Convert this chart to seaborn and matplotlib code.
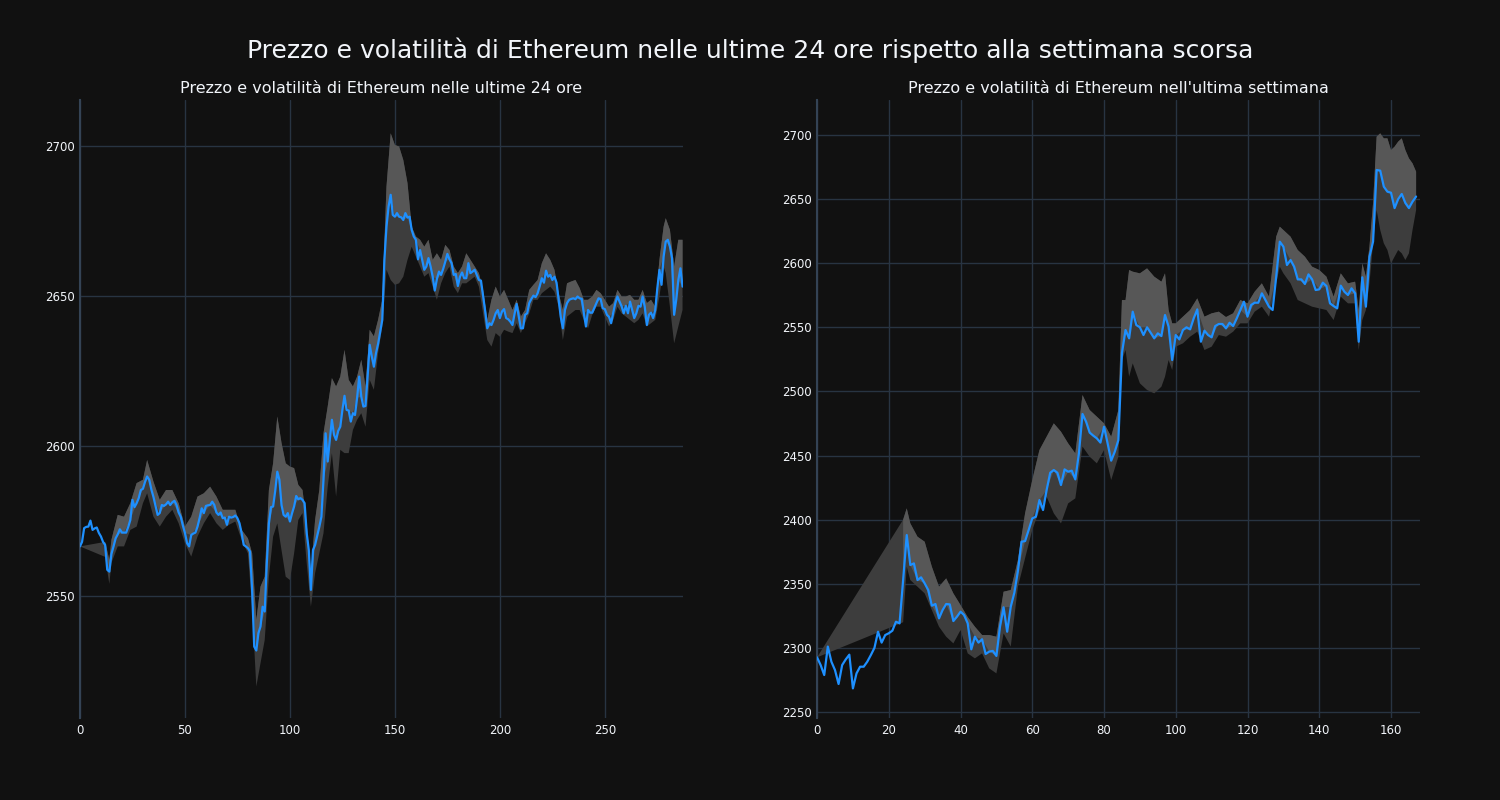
import numpy as np
import pandas as pd
import matplotlib
matplotlib.use("Agg")
import matplotlib.pyplot as plt
import seaborn as sns

# --- dati: prezzo ETH ultime 24 ore (intervalli di 5 minuti) --- #
prezzo_24h = [
    2566.5, 2568.0, 2572.6, 2573.0, 2573.1, 2575.1, 2572.0, 2572.5, 2572.8, 2571.0,
    2569.8, 2568.0, 2567.0, 2558.7, 2558.1, 2564.0, 2566.5, 2569.2, 2570.5, 2572.2,
    2571.1, 2571.1, 2571.1, 2573.0, 2575.3, 2582.0, 2579.6, 2580.9, 2582.6, 2585.3,
    2585.7, 2588.0, 2589.8, 2588.7, 2585.5, 2583.0, 2580.0, 2577.0, 2577.6, 2580.3,
    2580.0, 2580.5, 2581.4, 2580.3, 2581.2, 2581.7, 2580.3, 2577.8, 2576.4, 2573.5,
    2571.0, 2567.6, 2566.5, 2570.3, 2570.8, 2571.1, 2573.1, 2576.0, 2579.2, 2577.6,
    2580.0, 2580.2, 2580.3, 2581.4, 2580.3, 2577.8, 2577.0, 2577.8, 2575.9, 2576.1,
    2573.7, 2576.4, 2576.1, 2576.3, 2576.8, 2575.9, 2574.2, 2570.9, 2567.0, 2566.5,
    2565.9, 2564.8, 2552.0, 2533.1, 2531.8, 2537.6, 2539.8, 2546.4, 2544.8, 2560.9,
    2574.2, 2579.6, 2579.8, 2585.0, 2591.4, 2588.7, 2580.3, 2577.0, 2576.4, 2577.6,
    2574.8, 2577.5, 2579.8, 2583.3, 2582.2, 2582.6, 2582.0, 2580.9, 2570.9, 2565.3,
    2552.0, 2565.3, 2567.0, 2570.0, 2573.0, 2576.4, 2588.7, 2604.2, 2594.8, 2602.0,
    2608.7, 2603.7, 2602.0, 2605.0, 2606.4, 2612.0, 2616.7, 2612.0, 2611.8, 2608.1,
    2610.9, 2610.3, 2616.0, 2623.1, 2616.4, 2613.1, 2613.3, 2623.0, 2633.7, 2629.8,
    2626.4, 2630.9, 2634.0, 2638.0, 2642.0, 2662.0, 2673.1, 2679.8, 2683.7, 2677.0,
    2676.4, 2677.6, 2676.4, 2676.2, 2675.3, 2677.6, 2676.1, 2676.4, 2672.0, 2669.8,
    2668.7, 2662.2, 2665.3, 2662.0, 2658.7, 2659.8, 2662.6, 2659.8, 2656.4, 2651.8,
    2655.6, 2658.1, 2657.0, 2659.0, 2661.4, 2664.0, 2662.2, 2660.9, 2657.0, 2657.3,
    2653.3, 2656.4, 2657.8, 2655.9, 2655.9, 2660.9, 2657.6, 2658.1, 2658.7, 2657.0,
    2655.3, 2655.1, 2650.0, 2645.0, 2639.2, 2640.9, 2640.3, 2642.0, 2644.2, 2645.3,
    2642.6, 2644.8, 2645.6, 2642.6, 2642.2, 2641.4, 2640.3, 2644.0, 2647.3, 2643.1,
    2639.2, 2639.2, 2643.7, 2644.2, 2647.6, 2649.0, 2650.1, 2649.6, 2650.9, 2653.3,
    2655.9, 2654.4, 2658.4, 2656.4, 2657.0, 2655.3, 2656.4, 2654.4, 2648.7, 2643.0,
    2639.2, 2645.3, 2647.6, 2648.7, 2649.0, 2649.2, 2648.9, 2649.8, 2649.2, 2649.0,
    2644.2, 2639.8, 2645.3, 2644.4, 2644.4, 2646.0, 2647.6, 2649.2, 2648.9, 2645.9,
    2645.6, 2643.7, 2643.0, 2640.9, 2644.4, 2647.6, 2649.8, 2648.1, 2646.5, 2644.2,
    2646.7, 2644.2, 2648.1, 2645.3, 2642.6, 2644.2, 2646.7, 2646.4, 2649.8, 2646.4,
    2640.3, 2643.7, 2644.4, 2642.6, 2645.3, 2652.6, 2658.7, 2653.7, 2663.1, 2668.1,
    2668.7, 2666.4, 2662.6, 2643.7, 2648.7, 2655.3, 2659.2, 2653.1,
]

# banda di volatilità (24 ore)
banda_x_24h = [
    12, 14, 15, 18, 21, 24, 27, 30, 32, 35, 38, 41, 44, 47, 50, 53, 56, 59, 62, 65,
    68, 71, 74, 77, 80, 82, 84, 86, 88, 90, 92, 94, 96, 98,
    100, 102, 104, 106, 108, 110, 112, 114, 116, 118, 120, 122, 124, 126, 128, 130,
    132, 134, 136, 138, 140, 142, 144, 146, 148, 150, 152, 154, 156, 158, 160, 162,
    164, 166, 168, 170, 172, 174, 176, 178, 180, 182, 184, 186, 188, 190, 192, 194,
    196, 198, 200, 202, 204, 206, 208, 210, 212, 214, 216, 218, 220, 222, 224, 226,
    228, 230, 232, 234, 236, 238, 240, 242, 244, 246, 248, 250, 252, 254, 256, 258,
    260, 262, 264, 266, 268, 270, 272, 274,
    276, 278, 279, 281, 283, 285, 287,
]
sup_24h = [
    2568.0, 2562.0, 2568.7, 2577.0, 2576.4, 2580.9, 2587.6, 2588.7, 2595.3, 2588.1,
    2582.0, 2585.3, 2585.3, 2580.9, 2573.1, 2576.4, 2583.1, 2584.2, 2586.4, 2583.1,
    2578.7, 2578.7, 2578.7, 2572.0, 2569.2, 2564.2, 2542.0, 2553.1, 2556.4, 2585.3,
    2594.2, 2609.8, 2601.0, 2594.2,
    2593.1, 2592.6, 2587.0, 2585.3, 2574.0, 2557.6, 2575.3, 2585.3, 2604.2, 2613.1,
    2622.6, 2619.8, 2623.1, 2632.0, 2622.0, 2619.8, 2623.1, 2628.7, 2619.8, 2638.7,
    2636.5, 2642.0, 2648.7, 2686.4, 2704.2, 2700.3, 2699.8, 2695.3, 2687.6, 2673.1,
    2669.8, 2668.7, 2666.4, 2668.7, 2662.0, 2664.2, 2662.0, 2667.0, 2665.3, 2659.8,
    2657.6, 2659.8, 2664.2, 2662.0, 2659.8, 2657.6, 2652.0, 2642.0, 2648.7, 2653.1,
    2649.8, 2652.0, 2648.7, 2645.3, 2648.7, 2643.1, 2645.3, 2652.0, 2653.7, 2655.3,
    2660.9, 2664.2, 2662.0, 2658.7, 2650.9, 2645.3, 2654.2, 2654.8, 2655.3, 2652.6,
    2648.7, 2648.7, 2649.8, 2652.0, 2650.9, 2648.7, 2646.4, 2647.6, 2652.0, 2649.8,
    2649.8, 2650.3, 2648.7, 2648.7, 2652.0, 2647.6, 2648.7, 2646.4,
    2662.0, 2673.1, 2675.9, 2672.0, 2659.8, 2668.7, 2668.7,
]
inf_24h = [
    2563.0, 2554.0, 2561.0, 2566.5, 2566.5, 2572.0, 2573.1, 2580.9, 2584.2, 2576.4,
    2573.1, 2576.4, 2578.7, 2574.2, 2567.6, 2563.1, 2569.8, 2574.2, 2577.6, 2574.2,
    2572.0, 2573.7, 2574.8, 2568.7, 2564.2, 2546.0, 2519.8, 2527.6, 2535.3, 2556.4,
    2569.8, 2574.2, 2565.3, 2556.4,
    2555.3, 2564.2, 2575.3, 2577.6, 2560.9, 2546.4, 2557.6, 2564.2, 2570.9, 2586.4,
    2597.6, 2583.1, 2598.7, 2597.6, 2597.6, 2605.3, 2608.7, 2610.9, 2606.4, 2622.0,
    2618.7, 2630.9, 2639.8, 2658.7, 2655.3, 2653.7, 2654.2, 2656.4, 2662.0, 2666.4,
    2663.1, 2659.8, 2656.4, 2657.6, 2653.1, 2648.7, 2654.2, 2657.6, 2659.8, 2653.1,
    2650.9, 2654.2, 2654.2, 2655.3, 2656.4, 2653.1, 2644.2, 2635.3, 2633.1, 2637.6,
    2636.4, 2638.7, 2638.1, 2637.6, 2640.9, 2637.6, 2640.9, 2644.2, 2648.7, 2648.7,
    2650.9, 2652.0, 2653.1, 2651.4, 2646.4, 2635.3, 2643.1, 2644.2, 2645.3, 2645.3,
    2642.0, 2639.2, 2643.7, 2646.4, 2646.4, 2643.1, 2639.8, 2642.0, 2646.4, 2644.2,
    2643.1, 2642.0, 2640.9, 2642.0, 2644.2, 2639.8, 2640.9, 2642.0,
    2649.8, 2659.8, 2657.6, 2646.4, 2634.2, 2639.8, 2645.3,
]

# --- dati: prezzo ETH ultima settimana (orario) --- #
prezzo_7g = [
    2292.6, 2286.6, 2278.8, 2301.0, 2289.2, 2282.7, 2271.8, 2286.6, 2291.0, 2294.7,
    2268.4, 2280.1, 2285.3, 2285.3, 2289.2, 2294.4, 2300.0, 2312.6, 2304.1, 2310.0,
    2311.4, 2313.4, 2320.4, 2319.1, 2352.9, 2388.0, 2364.6, 2365.9, 2352.9, 2355.0,
    2350.3, 2345.1, 2332.9, 2334.2, 2323.0, 2329.5, 2334.2, 2333.9, 2320.9, 2324.3,
    2328.2, 2325.6, 2319.1, 2298.9, 2308.7, 2304.1, 2306.7, 2295.2, 2297.1, 2297.6,
    2293.7, 2316.5, 2331.6, 2312.6, 2332.1, 2343.0, 2360.0, 2382.8, 2383.3, 2392.0,
    2401.0, 2402.3, 2415.3, 2407.5, 2423.1, 2436.6, 2438.7, 2436.6, 2427.0, 2439.2,
    2437.4, 2438.2, 2431.4, 2451.7, 2482.4, 2476.4, 2467.9, 2465.5, 2463.4, 2460.1,
    2472.5, 2459.5, 2446.0, 2453.0, 2462.0, 2530.0, 2547.9, 2541.4, 2562.2, 2551.8,
    2550.0, 2544.0, 2550.0, 2545.8, 2541.4, 2545.3, 2543.2, 2559.6, 2550.5, 2524.5,
    2544.0, 2540.6, 2547.9, 2550.0, 2548.4, 2557.0, 2564.0, 2538.8, 2547.4, 2544.0,
    2542.2, 2551.0, 2552.6, 2552.6, 2549.2, 2553.6, 2551.0, 2557.0, 2563.5, 2570.0,
    2558.3, 2567.4, 2569.2, 2569.2, 2576.5, 2571.3, 2566.1, 2563.5, 2589.5, 2616.8,
    2612.9, 2598.6, 2602.5, 2597.3, 2587.4, 2587.4, 2583.8, 2591.3, 2587.4, 2579.1,
    2579.6, 2584.8, 2582.2, 2568.7, 2566.6, 2564.8, 2582.5, 2577.8, 2575.2, 2580.4,
    2576.5, 2538.8, 2589.0, 2566.1, 2605.1, 2616.8, 2672.7, 2672.2, 2659.7, 2655.8,
    2655.0, 2643.0, 2650.0, 2654.0, 2647.0, 2643.0, 2648.0, 2652.0,
]

# banda di volatilità (settimana)
banda_x_7g = [
    24, 25, 26, 28, 30, 32, 34, 36, 38, 40, 42, 44, 46, 48, 50, 52, 54, 56, 58, 60,
    62, 64, 66, 68, 70, 72, 74, 76, 78, 80, 82, 84, 85, 86, 87, 88, 90, 92, 94, 96,
    97, 98, 99, 100, 102, 104, 106, 108, 110, 112, 114, 116, 118, 120, 122, 124, 126,
    128, 129, 130, 132, 134, 136, 138, 140, 142, 144, 146, 148, 150,
    151, 152, 153, 154, 155, 156, 157, 158, 159, 160, 161, 162, 163, 164, 165, 166, 167,
]
sup_7g = [
    2400.0, 2408.8, 2397.1, 2386.7, 2382.8, 2363.3, 2347.7, 2354.2, 2342.5, 2333.4,
    2324.0, 2316.5, 2310.0, 2310.0, 2308.7, 2343.8, 2345.1, 2368.5, 2405.0, 2430.9,
    2454.3, 2464.7, 2475.1, 2468.6, 2459.5, 2451.7, 2497.2, 2485.5, 2480.3, 2475.1,
    2464.7, 2485.5, 2571.3, 2571.3, 2594.7, 2593.4, 2592.1, 2596.0, 2589.5, 2585.6,
    2592.1, 2563.5, 2553.1, 2553.1, 2558.3, 2563.5, 2572.6, 2558.3, 2560.9, 2562.2,
    2558.0, 2560.9, 2571.3, 2568.7, 2577.8, 2584.3, 2573.9,
    2620.7, 2628.5, 2625.9, 2620.7, 2610.3, 2605.1, 2597.3, 2594.7, 2589.5, 2573.9,
    2592.1, 2584.3, 2585.6,
    2563.5, 2599.9, 2589.5, 2612.9, 2646.7, 2698.7, 2701.3, 2697.4, 2697.4, 2688.3,
    2690.9, 2694.8, 2697.4, 2688.3, 2681.8, 2677.9, 2671.4,
]
inf_7g = [
    2320.0, 2363.3, 2352.9, 2347.7, 2342.5, 2329.5, 2316.5, 2308.7, 2303.5, 2313.9,
    2295.7, 2291.8, 2295.7, 2284.0, 2280.1, 2311.3, 2301.0, 2347.7, 2370.0, 2392.0,
    2407.5, 2417.9, 2404.9, 2397.1, 2412.7, 2416.6, 2457.0, 2449.1, 2443.9, 2454.3,
    2430.9, 2449.1, 2524.5, 2532.3, 2511.5, 2521.9, 2506.3, 2501.1, 2498.5, 2503.7,
    2511.5, 2524.5, 2516.7, 2534.9, 2537.5, 2542.7, 2546.6, 2532.3, 2534.9, 2544.0,
    2542.7, 2546.6, 2553.1, 2553.1, 2562.2, 2566.1, 2558.3,
    2584.3, 2597.3, 2592.1, 2584.3, 2571.3, 2568.7, 2566.1, 2564.8, 2563.5, 2555.7,
    2573.9, 2568.7, 2568.7,
    2532.3, 2555.7, 2563.5, 2584.3, 2615.5, 2641.5, 2625.9, 2615.5, 2610.3, 2599.9,
    2605.1, 2610.3, 2607.7, 2602.5, 2607.7, 2625.9, 2641.5,
]

TITOLO = "Prezzo e volatilità di Ethereum nelle ultime 24 ore rispetto alla settimana scorsa"
TITOLO_24H = "Prezzo e volatilità di Ethereum nelle ultime 24 ore"
TITOLO_7G = "Prezzo e volatilità di Ethereum nell'ultima settimana"

SFONDO = "#111111"
GRIGLIA = "#283442"
TESTO = "#f2f5fa"
BLU = "#1e90ff"
GRIGIO_SCURO = "#3d3d3d"
GRIGIO_CHIARO = "#575757"


def grafico_volatilita(ax, prezzi, bx, sup, inf, titolo, xlim, ylim, xticks, yticks):
    df = pd.DataFrame({"t": np.arange(len(prezzi)), "prezzo": prezzi})
    bx = np.array(bx)
    sup = np.array(sup)
    inf = np.array(inf)
    p = df["prezzo"].to_numpy()

    # banda intera (parte dal primo prezzo, come nell'originale)
    xs = np.concatenate([[df["t"].iloc[0]], bx, bx[::-1]])
    ys = np.concatenate([[p[0]], sup, inf[::-1]])
    ax.fill(xs, ys, color=GRIGIO_SCURO, lw=0, zorder=1)
    # parte superiore piu chiara
    xs2 = np.concatenate([bx, bx[::-1]])
    ys2 = np.concatenate([sup, p[bx][::-1]])
    ax.fill(xs2, ys2, color=GRIGIO_CHIARO, lw=0, zorder=2)

    sns.lineplot(data=df, x="t", y="prezzo", ax=ax, color=BLU, linewidth=1.6, zorder=3)

    ax.set_facecolor(SFONDO)
    ax.set_xlim(*xlim)
    ax.set_ylim(*ylim)
    ax.set_xticks(xticks)
    ax.set_yticks(yticks)
    ax.set_xlabel("")
    ax.set_ylabel("")
    ax.grid(True, color=GRIGLIA, linewidth=1)
    ax.set_axisbelow(True)
    for s in ["top", "right", "bottom"]:
        ax.spines[s].set_visible(False)
    ax.spines["left"].set_color("#344355")
    ax.spines["left"].set_linewidth(1.5)
    ax.tick_params(colors=TESTO, labelsize=8.5, length=0, pad=4)
    ax.set_title(titolo, color=TESTO, fontsize=11.5, pad=5)


sns.set_theme(style="darkgrid")
plt.rcParams["font.family"] = ["DejaVu Sans"]

fig = plt.figure(figsize=(15, 8), dpi=100, facecolor=SFONDO)
ax1 = fig.add_axes([0.0533, 0.1025, 0.402, 0.7725])
ax2 = fig.add_axes([0.5447, 0.1025, 0.402, 0.7725])

grafico_volatilita(ax1, prezzo_24h, banda_x_24h, sup_24h, inf_24h, TITOLO_24H,
                   (0, 287.2), (2509.3, 2715.3), [0, 50, 100, 150, 200, 250],
                   [2550, 2600, 2650, 2700])
grafico_volatilita(ax2, prezzo_7g, banda_x_7g, sup_7g, inf_7g, TITOLO_7G,
                   (0, 168.1), (2245.3, 2727.3), [0, 20, 40, 60, 80, 100, 120, 140, 160],
                   list(range(2250, 2701, 50)))

fig.text(0.5, 1 - 50 / 800, TITOLO, ha="center", va="center", color=TESTO, fontsize=18)

fig.savefig("out.png", dpi=100, facecolor=SFONDO)
